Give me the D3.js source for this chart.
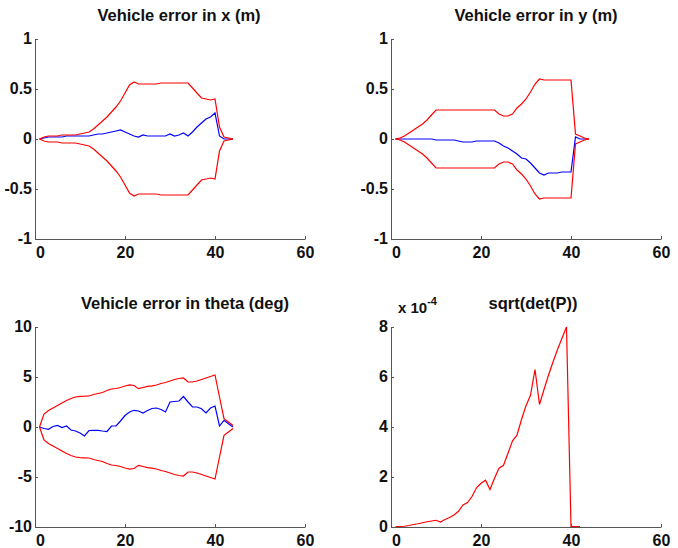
<!DOCTYPE html>
<html>
<head>
<meta charset="utf-8">
<script src="https://cdn.jsdelivr.net/npm/d3@7"></script>
<style>
  body { margin: 0; background: #fff; }
  text { font-family: "Liberation Sans", Arial, sans-serif; font-weight: bold; fill: #111; }
</style>
</head>
<body>
<svg id="fig" width="678" height="548"></svg>
<script>
// time steps
const t = [1,2,3,4,5,6,7,8,9,10,11,12,13,14,15,16,17,18,19,20,21,22,
           23,24,25,26,27,28,29,30,31,32,33,34,35,36,37,38,39,40,41,42,43,44];

// vehicle error in x (m) and its bounds
const xErr = [0,0.01,0.02,0.02,0.02,0.02,0.03,0.03,0.03,0.03,0.03,0.03,0.04,0.05,0.05,0.06,0.07,0.08,0.09,0.07,0.05,0.03,
              0.02,0.04,0.03,0.03,0.03,0.03,0.03,0.05,0.03,0.04,0.06,0.03,0.07,0.12,0.16,0.2,0.22,0.26,0.03,0,0,0];
const xBoundUp = [0,0.02,0.03,0.03,0.03,0.04,0.04,0.04,0.04,0.05,0.06,0.07,0.1,0.14,0.18,0.22,0.27,0.32,0.38,0.46,0.54,0.57,
                  0.55,0.55,0.55,0.55,0.55,0.56,0.56,0.56,0.56,0.56,0.56,0.56,0.51,0.46,0.41,0.4,0.39,0.4,0.12,0.02,0.01,0];
const xBoundLo = [0,-0.02,-0.03,-0.03,-0.03,-0.04,-0.04,-0.04,-0.04,-0.05,-0.06,-0.07,-0.1,-0.14,-0.18,-0.22,-0.27,-0.32,-0.38,-0.46,-0.54,-0.57,
                  -0.55,-0.55,-0.55,-0.55,-0.55,-0.56,-0.56,-0.56,-0.56,-0.56,-0.56,-0.56,-0.51,-0.46,-0.41,-0.4,-0.39,-0.4,-0.12,-0.02,-0.01,0];

// vehicle error in y (m) and its bounds
const yErr = [0,0,0,0,0,0,0,0,0,-0.01,-0.01,-0.01,-0.01,-0.01,-0.02,-0.03,-0.03,-0.03,-0.02,-0.02,-0.02,-0.02,
              -0.02,-0.04,-0.07,-0.09,-0.12,-0.15,-0.19,-0.2,-0.24,-0.29,-0.34,-0.36,-0.34,-0.34,-0.34,-0.33,-0.33,-0.33,0.02,0,0,0];
const yBoundUp = [0,0.01,0.03,0.06,0.09,0.12,0.15,0.19,0.24,0.29,0.29,0.29,0.29,0.29,0.29,0.29,0.29,0.29,0.29,0.29,0.29,0.29,
                  0.29,0.25,0.23,0.23,0.25,0.31,0.35,0.4,0.47,0.55,0.6,0.59,0.59,0.59,0.59,0.59,0.59,0.59,0.05,0.03,0.01,0];
const yBoundLo = [0,-0.01,-0.03,-0.06,-0.09,-0.12,-0.15,-0.19,-0.24,-0.29,-0.29,-0.29,-0.29,-0.29,-0.29,-0.29,-0.29,-0.29,-0.29,-0.29,-0.29,-0.29,
                  -0.29,-0.25,-0.23,-0.23,-0.25,-0.31,-0.35,-0.4,-0.47,-0.55,-0.6,-0.59,-0.59,-0.59,-0.59,-0.59,-0.59,-0.59,-0.05,-0.03,-0.01,0];

// vehicle error in theta (deg) and its bounds
const thErr = [0,-0.15,-0.23,0.05,0.15,-0.05,0.1,-0.3,-0.4,-0.6,-0.9,-0.35,-0.33,-0.33,-0.4,-0.45,0.1,0.1,0.6,1.15,1.5,1.67,
               1.6,1.4,1.65,1.85,1.9,1.75,1.5,2.5,2.55,2.6,3.05,2.5,2,2,1.83,1.4,1.9,2.1,0.1,0.67,0.33,0];
const thBoundUp = [0,1.3,1.65,1.9,2.15,2.4,2.65,2.85,3,3.07,3.08,3.1,3.25,3.35,3.45,3.65,3.8,3.85,3.95,4.1,4.22,4.15,
                   3.83,3.95,4.07,4.12,4.2,4.35,4.45,4.6,4.75,4.85,4.9,4.5,4.5,4.6,4.75,4.9,5.05,5.2,3,0.83,0.5,0.15];
const thBoundLo = [0,-1.3,-1.65,-1.9,-2.15,-2.4,-2.65,-2.85,-3,-3.07,-3.08,-3.1,-3.25,-3.35,-3.45,-3.65,-3.8,-3.85,-3.95,-4.1,-4.22,-4.15,
                   -3.83,-3.95,-4.07,-4.12,-4.2,-4.35,-4.45,-4.6,-4.75,-4.85,-4.9,-4.5,-4.5,-4.6,-4.75,-4.9,-5.05,-5.2,-3,-0.83,-0.5,-0.15];

// sqrt(det(P)), in units of 1e-4
const tDet = [1,2,3,4,5,6,7,8,9,10,11,12,13,14,15,16,17,18,19,20,21,
              22,23,24,25,26,27,28,29,30,31,32,33,34,35,36,37,38,39,40,41,42];
const detP = [0.02,0.02,0.03,0.06,0.1,0.13,0.17,0.21,0.24,0.27,0.2,0.3,0.38,0.48,0.63,0.88,0.98,1.22,1.57,1.75,1.87,
              1.5,1.95,2.35,2.47,2.95,3.45,3.67,4.3,4.85,5.27,6.3,4.9,5.5,6.07,6.6,7.1,7.55,8,0.02,0.02,0.02];

const titles = ["Vehicle error in x (m)", "Vehicle error in y (m)", "Vehicle error in theta (deg)", "sqrt(det(P))"];
const xTicks = [0, 20, 40, 60];
const errTicks = [-1, -0.5, 0, 0.5, 1];
const thTicks = [-10, -5, 0, 5, 10];
const detTicks = [0, 2, 4, 6, 8];

const svg = d3.select("#fig");
const W = 270, H = 200;

let panels = [
    {title: titles[0], titleX: 179, left: 35, top: 39, yTicks: errTicks,
     lines: [[t, xErr, "#0000ff"], [t, xBoundUp, "#ff0000"], [t, xBoundLo, "#ff0000"]]},
    {title: titles[1], titleX: 536, left: 391, top: 39, yTicks: errTicks,
     lines: [[t, yErr, "#0000ff"], [t, yBoundUp, "#ff0000"], [t, yBoundLo, "#ff0000"]]},
    {title: titles[2], titleX: 185, left: 35, top: 327, yTicks: thTicks,
     lines: [[t, thErr, "#0000ff"], [t, thBoundUp, "#ff0000"], [t, thBoundLo, "#ff0000"]]},
    {title: titles[3], titleX: 533, left: 391, top: 327, yTicks: detTicks, exponent: true,
     lines: [[tDet, detP, "#ff0000"]]}
];

let draw_panel = (p) => {
    let x = d3.scaleLinear().domain([0, 60]).range([p.left, p.left + W]);
    let y = d3.scaleLinear()
        .domain([p.yTicks[0], p.yTicks[p.yTicks.length - 1]])
        .range([p.top + H, p.top]);

    // axes, ticks pointing inwards, no box
    let gx = svg.append("g")
        .attr("transform", `translate(0, ${p.top + H})`)
        .call(d3.axisBottom(x).tickValues(xTicks).tickFormat(d => String(d))
            .tickSizeInner(-3).tickSizeOuter(0).tickPadding(8));
    gx.selectAll("text").filter(d => d === 0).attr("dx", 5);

    let gy = svg.append("g")
        .attr("transform", `translate(${p.left}, 0)`)
        .call(d3.axisLeft(y).tickValues(p.yTicks).tickFormat(d => String(d))
            .tickSizeInner(-3).tickSizeOuter(0).tickPadding(3));
    gy.selectAll("text").attr("dy", "0.25em");

    [gx, gy].forEach(g => {
        g.selectAll("path, line").attr("stroke", "#555").attr("stroke-width", 1);
        g.selectAll("text").attr("font-size", 16).attr("fill", "#111")
            .attr("font-family", "Liberation Sans, Arial, sans-serif");
    });

    let line = d3.line().x(d => x(d[0])).y(d => y(d[1]));
    p.lines.forEach(([xs, ys, color]) => {
        svg.append("path")
            .datum(xs.map((v, i) => [v, ys[i]]))
            .attr("d", line)
            .attr("fill", "none")
            .attr("stroke", color)
            .attr("stroke-width", 1.2);
    });

    svg.append("text")
        .attr("x", p.titleX)
        .attr("y", p.top - 18)
        .attr("text-anchor", "middle")
        .attr("font-size", 16.5)
        .text(p.title);

    if (p.exponent) {
        let ex = svg.append("text")
            .attr("x", p.left + 7)
            .attr("y", p.top - 14)
            .attr("font-size", 15)
            .text("x 10");
        ex.append("tspan").attr("dy", -8).attr("font-size", 11).text("-4");
    }
}

panels.forEach(draw_panel);
</script>
</body>
</html>
